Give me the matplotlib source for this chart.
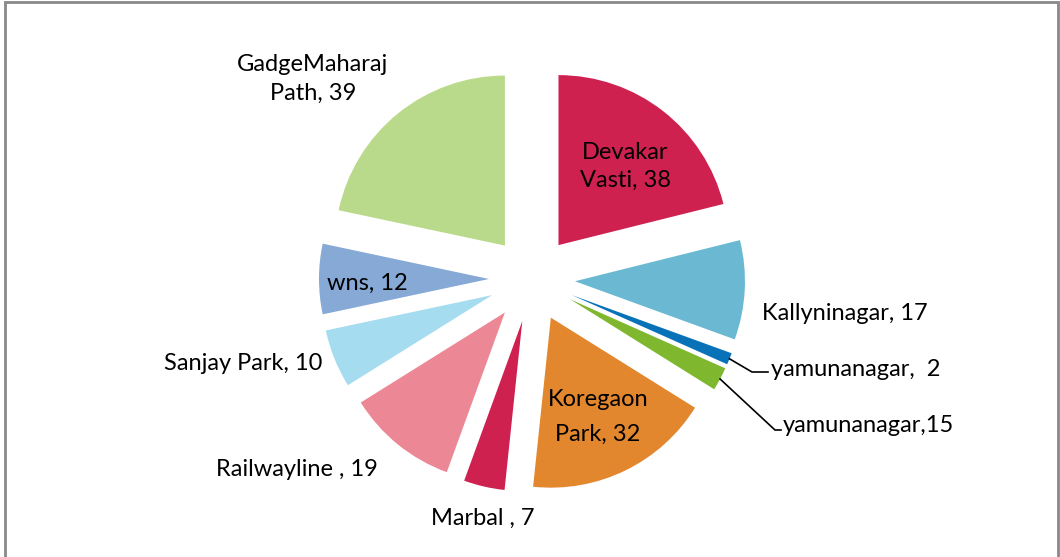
import numpy as np
import matplotlib.pyplot as plt
from matplotlib.patches import Rectangle

labels = ['Devakar\nVasti, 38', 'Kallyninagar, 17', 'yamunanagar,  2', 'yamunanagar,15',
          'Koregaon\nPark, 32', 'Marbal , 7', 'Railwayline , 19', 'Sanjay Park, 10',
          'wns, 12', 'GadgeMaharaj\nPath, 39']
values = [38, 17, 2, 4, 32, 7, 19, 10, 12, 39]
colors = ['#CE2150', '#6AB8D2', '#0872B8', '#7FB82E', '#E3872F', '#CE2150',
          '#EC8896', '#A6DCEF', '#86A9D6', '#BADA8B']

plt.rcParams['font.family'] = ['Lato', 'DejaVu Sans']

W, H = 1060, 557
cx, cy, R = 532, 279, 170   # pie centre and radius in pixels

fig = plt.figure(figsize=(W / 100, H / 100), dpi=100)
ax = fig.add_axes([0, 0, 1, 1])
wedges, _ = ax.pie(values, colors=colors, startangle=90, counterclock=False,
                   explode=[0.253] * len(values), radius=1,
                   wedgeprops=dict(linewidth=0))
ax.set_aspect('auto')
ax.set_xlim(-cx / R, (W - cx) / R)
ax.set_ylim(-(H - cy) / R, cy / R)
ax.axis('off')


def px(x, y):
    return (x - cx) / R, (cy - y) / R


# label placement (pixel positions of text anchors)
fs = 17
pos = {
    0: (625, 166, 'center', 1.4),
    1: (845, 314, 'center', 1.2),
    2: (771, 369, 'left', 1.2),
    3: (783, 426, 'left', 1.2),
    4: (598, 417, 'center', 1.8),
    5: (483, 518, 'center', 1.2),
    6: (297, 470, 'center', 1.2),
    7: (243, 364, 'center', 1.2),
    8: (367, 283, 'center', 1.2),
    9: (313, 79, 'center', 1.43),
}
for i, (x, y, ha, ls) in pos.items():
    tx, ty = px(x, y)
    ax.text(tx, ty, labels[i], ha=ha, va='center', fontsize=fs,
            color='black', linespacing=ls, multialignment='center')

# leader lines for the two thin slices
elbows = {2: ((752, 372), (768, 372)), 3: ((775, 430), (781, 430))}
for i, (e1, e2) in elbows.items():
    w = wedges[i]
    mid = np.deg2rad((w.theta1 + w.theta2) / 2)
    sx = w.center[0] + w.r * np.cos(mid)
    sy = w.center[1] + w.r * np.sin(mid)
    p1 = px(*e1)
    p2 = px(*e2)
    ax.plot([sx, p1[0], p2[0]], [sy, p1[1], p2[1]], color='black', lw=1.2)

# chart border
fig.patches.append(Rectangle((5 / W, -0.05), 1053 / W, 1.05 - 2 / H,
                             transform=fig.transFigure, fill=False,
                             edgecolor='#898989', lw=2))

fig.savefig('out.png', dpi=100)
